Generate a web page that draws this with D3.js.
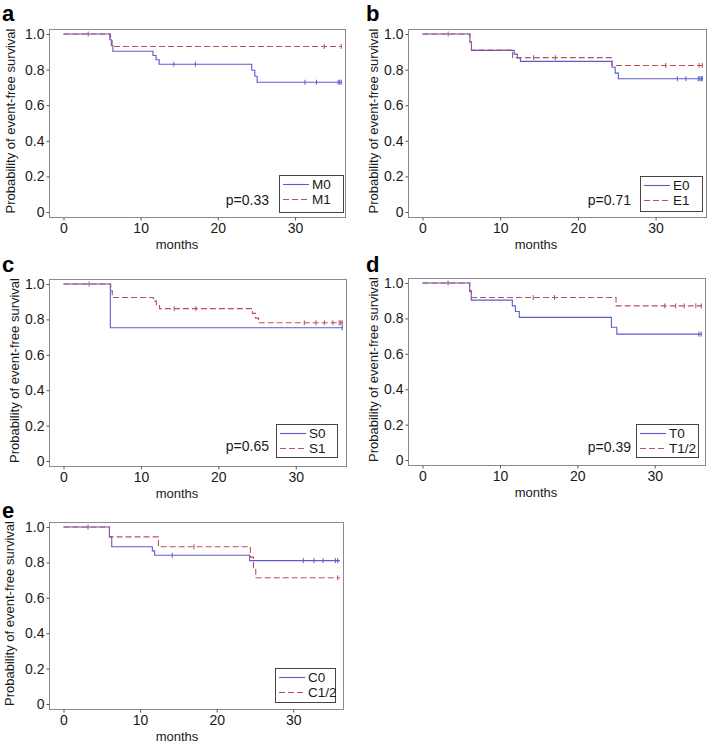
<!DOCTYPE html>
<html>
<head>
<meta charset="utf-8">
<script src="https://cdn.jsdelivr.net/npm/d3@7"></script>
<style>
  html, body { margin: 0; padding: 0; background: #fff; }
  svg { display: block; font-family: "Liberation Sans", Arial, sans-serif; }
</style>
</head>
<body>
<svg id="chart" width="709" height="743"></svg>
<script>
// ---------------- DATA ----------------
const panelLetters = ["a", "b", "c", "d", "e"];
const legendLabels = [["M0", "M1"], ["E0", "E1"], ["S0", "S1"], ["T0", "T1/2"], ["C0", "C1/2"]];
const pValues = ["p=0.33", "p=0.71", "p=0.65", "p=0.39", ""];
const xTicks = [0, 10, 20, 30];
const yTicks = [0, 0.2, 0.4, 0.6, 0.8, 1.0];
const yTickLabels = ["0", "0.2", "0.4", "0.6", "0.8", "1.0"];
const xLabel = "months";
const yLabel = "Probability of event-free survival";

// panel a
const aM0Times = [0, 6.0, 6.2, 6.4, 11.6, 12.0, 12.4, 24.4, 24.8, 25.1];
const aM0Surv  = [1, 0.968, 0.935, 0.903, 0.879, 0.855, 0.830, 0.796, 0.763, 0.729];
const aM0Censor = [3.2, 14.3, 17.1, 31.3, 32.8, 35.6, 35.8, 36.0];
const aM1Times = [0, 6.1, 6.3];
const aM1Surv  = [1, 0.965, 0.930];
const aM1Censor = [33.8, 36.0];

// panel b
const bE0Times = [0, 6.1, 6.3, 11.8, 12.2, 12.6, 24.4, 24.8, 25.2];
const bE0Surv  = [1, 0.955, 0.908, 0.887, 0.866, 0.846, 0.813, 0.780, 0.749];
const bE0Censor = [32.8, 33.9, 35.5, 35.7, 35.9, 36.0];
const bE1Times = [0, 6.1, 6.3, 11.6, 24.4];
const bE1Surv  = [1, 0.955, 0.910, 0.867, 0.823];
const bE1Censor = [3.3, 14.3, 17.1, 31.3, 35.6, 36.0];

// panel c
const cS0Times = [0, 6.05];
const cS0Surv  = [1, 0.753];
const cS0Censor = [36.0];
const cS1Times = [0, 6.1, 6.3, 11.6, 12.0, 12.4, 24.4, 24.8, 25.2];
const cS1Surv  = [1, 0.962, 0.924, 0.903, 0.882, 0.861, 0.834, 0.807, 0.781];
const cS1Censor = [3.3, 14.3, 17.1, 31.1, 32.6, 33.7, 34.8, 35.6, 35.8, 36.0];

// panel d
const dT0Times = [0, 6.1, 6.3, 11.6, 12.0, 12.5, 24.4, 25.1];
const dT0Surv  = [1, 0.952, 0.903, 0.871, 0.839, 0.806, 0.750, 0.711];
const dT0Censor = [3.3, 35.7, 36.0];
const dT12Times = [0, 6.1, 6.3, 25.0];
const dT12Surv  = [1, 0.958, 0.918, 0.871];
const dT12Censor = [14.3, 17.05, 31.3, 32.7, 33.8, 35.3, 36.0];

// panel e
const eC0Times = [0, 6.0, 6.3, 11.6, 11.9, 24.3];
const eC0Surv  = [1, 0.944, 0.888, 0.865, 0.840, 0.810];
const eC0Censor = [3.2, 14.2, 31.3, 32.7, 33.9, 35.5, 35.8];
const eC12Times = [0, 6.0, 12.4, 24.4, 24.8, 25.1];
const eC12Surv  = [1, 0.944, 0.888, 0.830, 0.770, 0.713];
const eC12Censor = [17.05, 35.8];

const endTime = 36.1;

const seriesByPanel = [
  [{t: aM0Times, s: aM0Surv, c: aM0Censor}, {t: aM1Times, s: aM1Surv, c: aM1Censor}],
  [{t: bE0Times, s: bE0Surv, c: bE0Censor}, {t: bE1Times, s: bE1Surv, c: bE1Censor}],
  [{t: cS0Times, s: cS0Surv, c: cS0Censor}, {t: cS1Times, s: cS1Surv, c: cS1Censor}],
  [{t: dT0Times, s: dT0Surv, c: dT0Censor}, {t: dT12Times, s: dT12Surv, c: dT12Censor}],
  [{t: eC0Times, s: eC0Surv, c: eC0Censor}, {t: eC12Times, s: eC12Surv, c: eC12Censor}]
];

// ---------------- LAYOUT ----------------
const boxes = [
  {x: 49,  y: 29,  w: 296, h: 188, ylx: 10,  letter: [2, 21],    legend: [279, 175, 64, 37], p: [269, 205]},
  {x: 408, y: 29,  w: 298, h: 188, ylx: 373, letter: [366, 21],  legend: [640, 176, 62, 35], p: [631, 205]},
  {x: 49,  y: 279, w: 297, h: 187, ylx: 14,  letter: [2, 272],   legend: [276, 424, 61, 33], p: [269, 451]},
  {x: 408, y: 278, w: 297, h: 187, ylx: 373, letter: [366, 272], legend: [636, 424, 62, 33], p: [631, 452]},
  {x: 49,  y: 522, w: 294, h: 187, ylx: 9,   letter: [2, 518],   legend: [275, 668, 60, 34], p: [0, 0]}
];
const colors = ["#5b5bcf", "#b9505f"];
const frameColor = "#8a8a8a";
const textColor = "#1a1a1a";

const svg = d3.select("#chart");

boxes.forEach((b, i) => {
  const g = svg.append("g");
  const x0px = 14.5;
  const pxPerMonth = (b.w - x0px - 3) / 36.1;
  const x = d3.scaleLinear().domain([0, 30]).range([b.x + x0px, b.x + x0px + 30 * pxPerMonth]);
  const y = d3.scaleLinear().domain([0, 1]).range([b.y + b.h - 5, b.y + 5]);

  // frame
  g.append("rect").attr("x", b.x + 0.5).attr("y", b.y + 0.5).attr("width", b.w).attr("height", b.h)
    .attr("fill", "none").attr("stroke", frameColor).attr("stroke-width", 1);

  // y axis
  const yAxis = d3.axisLeft(y).tickValues(yTicks).tickSize(3).tickPadding(2)
    .tickFormat((d, k) => yTickLabels[k]);
  const ya = g.append("g").attr("transform", `translate(${b.x + 0.5},0)`).call(yAxis);
  ya.select(".domain").remove();
  ya.selectAll("line").attr("stroke", "#555");
  ya.selectAll("text").attr("font-size", 14).attr("fill", textColor).attr("font-family", "Liberation Sans, Arial, sans-serif");

  // x axis
  const xAxis = d3.axisBottom(x).tickValues(xTicks).tickSize(3).tickPadding(3);
  const xa = g.append("g").attr("transform", `translate(0,${b.y + b.h + 0.5})`).call(xAxis);
  xa.select(".domain").remove();
  xa.selectAll("line").attr("stroke", "#555");
  xa.selectAll("text").attr("font-size", 14).attr("fill", textColor).attr("font-family", "Liberation Sans, Arial, sans-serif");

  // axis titles
  g.append("text").attr("x", b.x + 128).attr("y", b.y + b.h + 32)
    .attr("text-anchor", "middle").attr("font-size", 13).attr("fill", textColor).text(xLabel);
  g.append("text").attr("transform", `translate(${b.ylx},${b.y + b.h / 2 - 2}) rotate(-90)`)
    .attr("text-anchor", "middle").attr("dominant-baseline", "central")
    .attr("font-size", 13).attr("fill", textColor).text(yLabel);

  // panel letter
  g.append("text").attr("x", b.letter[0]).attr("y", b.letter[1])
    .attr("font-size", 22).attr("font-weight", "bold").attr("fill", "#000").text(panelLetters[i]);

  // curves
  const line = d3.line().x(d => x(d[0])).y(d => y(d[1])).curve(d3.curveStepAfter);
  seriesByPanel[i].forEach((ser, k) => {
    const pts = ser.t.map((t, j) => [t, ser.s[j]]);
    pts.push([endTime, ser.s[ser.s.length - 1]]);
    g.append("path").attr("d", line(pts)).attr("fill", "none")
      .attr("stroke", colors[k]).attr("stroke-width", 1.1)
      .attr("stroke-dasharray", k === 1 ? "6,3" : null);
    const survAt = t => { let v = ser.s[0]; ser.t.forEach((tt, j) => { if (tt <= t) v = ser.s[j]; }); return v; };
    g.selectAll(null).data(ser.c).enter().append("line")
      .attr("x1", d => x(d)).attr("x2", d => x(d))
      .attr("y1", d => y(survAt(d)) - 2.5).attr("y2", d => y(survAt(d)) + 2.5)
      .attr("stroke", colors[k]).attr("stroke-width", 1);
  });

  // legend
  const [lx, ly, lw, lh] = b.legend;
  const lg = g.append("g");
  lg.append("rect").attr("x", lx + 0.5).attr("y", ly + 0.5).attr("width", lw).attr("height", lh)
    .attr("fill", "#fff").attr("stroke", "#444").attr("stroke-width", 1);
  legendLabels[i].forEach((lab, k) => {
    const yy = ly + 9.5 + k * 15;
    lg.append("line").attr("x1", lx + 4).attr("x2", lx + 30).attr("y1", yy).attr("y2", yy)
      .attr("stroke", colors[k]).attr("stroke-width", 1.1)
      .attr("stroke-dasharray", k === 1 ? "6,3" : null);
    lg.append("text").attr("x", lx + 33).attr("y", yy).attr("dominant-baseline", "central")
      .attr("font-size", 13.5).attr("fill", textColor).text(lab);
  });

  // p value
  if (pValues[i]) {
    g.append("text").attr("x", b.p[0]).attr("y", b.p[1]).attr("text-anchor", "end")
      .attr("font-size", 14).attr("fill", textColor).text(pValues[i]);
  }
});
</script>
</body>
</html>
